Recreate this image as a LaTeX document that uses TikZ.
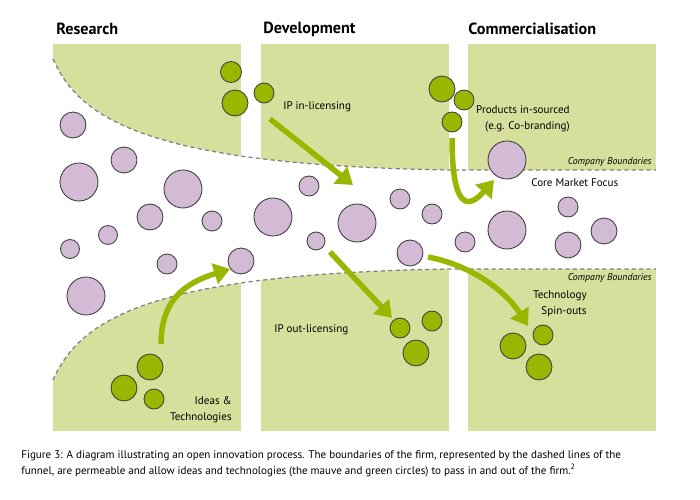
\documentclass[tikz,border=0pt]{standalone}
\usepackage{fontspec}
\setmainfont{PT Sans}
\usetikzlibrary{arrows.meta}

\definecolor{panelgreen}{RGB}{214,224,156}
\definecolor{leafgreen}{RGB}{153,182,0}
\definecolor{mauve}{RGB}{211,186,213}
\definecolor{boundgray}{RGB}{128,128,128}

\tikzset{
  panel/.style={fill=panelgreen},
  mv/.style={circle, draw=black!75, line width=0.5pt, fill=mauve, inner sep=0pt, minimum size=#1*0.4mm},
  gr/.style={circle, draw=black!75, line width=0.5pt, fill=leafgreen, inner sep=0pt, minimum size=#1*0.4mm},
  flow/.style={draw=leafgreen, line width=1.1mm, -{Triangle[length=3.2mm,width=4.2mm]}},
  boundary/.style={draw=boundgray, line width=0.7pt, dash pattern=on 2.4pt off 1.8pt},
  heading/.style={font=\fontsize{9.2}{10}\selectfont\bfseries, inner sep=0pt},
  lbl/.style={font=\fontsize{6.3}{9}\selectfont, inner sep=0pt},
  cb/.style={font=\fontsize{5.6}{7}\selectfont\itshape, inner sep=0pt},
}

\begin{document}
\begin{tikzpicture}[x=0.02cm, y=-0.02cm]
\useasboundingbox (0,0) rectangle (700,500);

% the three stages
\fill[panel] (53,44) rectangle (241,431);
\fill[panel] (261,44) rectangle (449,431);
\fill[panel] (468,44) rectangle (656,431);

% funnel
\fill[white] (53,59) .. controls (80,120) and (150,165) .. (449,170) -- (656,170)
  -- (656,269) -- (449,269) .. controls (150,274) and (80,319) .. (53,380) -- cycle;
\draw[boundary] (53,59) .. controls (80,120) and (150,165) .. (449,170) -- (656,170);
\draw[boundary] (53,380) .. controls (80,319) and (150,274) .. (449,269) -- (656,269);

\node[heading, anchor=west] (research) at (56,29) {Research};
\node[heading, anchor=west] (develop) at (263,29) {Development};
\node[heading, anchor=west] (commerce) at (468,29) {Commercialisation};

% ideas inside the firm
\foreach \x/\y/\r [count=\i] in {73/125/13, 124/160/13, 79/182/19, 183/189/19, 150/217/13,
    212/221/10, 108/235/9.5, 70/249/9.5, 86/296/19, 167/264/10, 241/261/13, 309/186/10,
    273/217/19, 316/241/9, 357/223/19, 400/199/10, 432/214/10, 410/253/13, 465/242/10,
    507/230/19, 507/160/19, 568/207/10, 604/231/13, 568/245/13}
  \node[mv=\r] (m\i) at (\x,\y) {};

% ideas outside the firm
\foreach \x/\y/\r [count=\i] in {231/72/10.5, 235/103/13, 264/93/10, 442/89/13, 464/100/10,
    452/122/10, 150/367/13, 124/388/13, 154/399/10, 400/328/10, 432/321/10, 416/353/13,
    543/335/10, 513/346/13, 539/367/13}
  \node[gr=\r] (g\i) at (\x,\y) {};

\coordinate (inlicS) at (270,119);
\coordinate (inlicE) at (353,185);
\coordinate (ideasS) at (161,344);
\coordinate (ideasE) at (230,269);
\coordinate (outlicS) at (330,252);
\coordinate (outlicE) at (392,318);
\coordinate (spinS) at (428,257);
\coordinate (spinE) at (528,326);
\coordinate (prodS) at (452,138);
\coordinate (prodE) at (494,180);

\draw[flow] (inlicS) -- (inlicE);
\draw[flow] (ideasS) .. controls (161,300) and (185,283) .. (ideasE);
\draw[flow] (outlicS) -- (outlicE);
\draw[flow] (spinS) .. controls (470,265) and (505,290) .. (spinE);
\draw[flow] (prodS) .. controls (452,218) and (472,205) .. (prodE);

\node[lbl, anchor=west] (inlic) at (283,107) {IP in-licensing};
\node[lbl, anchor=east, align=right] (prod) at (570,119) {Products in-sourced\\(e.g. Co-branding)};
\node[cb, anchor=east] (bound1) at (652,162) {Company Boundaries};
\node[lbl, anchor=west] (core) at (531,183) {Core Market Focus};
\node[cb, anchor=east] (bound2) at (652,278) {Company Boundaries};
\node[lbl, anchor=east, align=right] (spin) at (587,304) {Technology\\Spin-outs};
\node[lbl, anchor=west] (outlic) at (274,330) {IP out-licensing};
\node[lbl, anchor=east, align=right] (ideas) at (232,410) {Ideas \&\\Technologies};

\node[lbl, anchor=north west, align=left, font=\fontsize{6.3}{9.2}\selectfont] (caption) at (21,450)
  {Figure 3: A diagram illustrating an open innovation process. The boundaries of the firm, represented by the dashed lines of the\\
   funnel, are permeable and allow ideas and technologies (the mauve and green circles) to pass in and out of the firm.\textsuperscript{2}};
\end{tikzpicture}
\end{document}
